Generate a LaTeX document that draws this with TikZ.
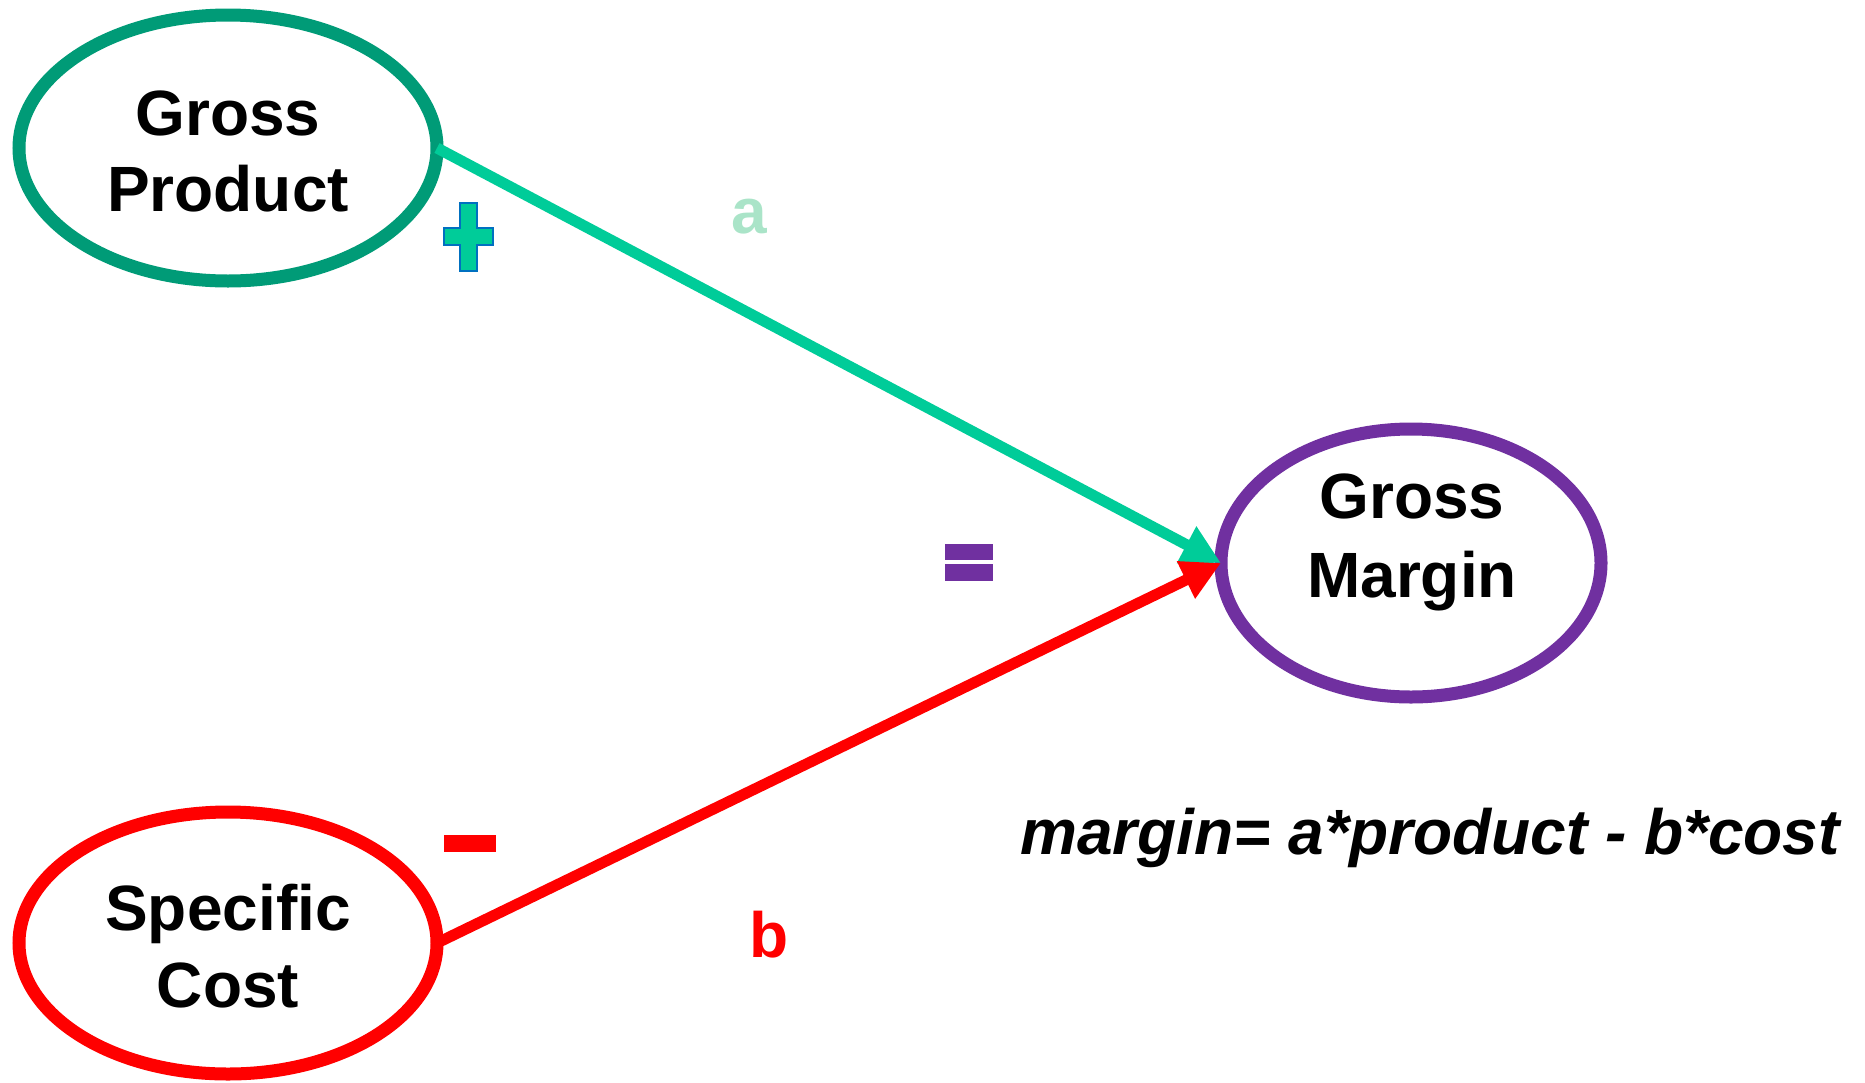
\documentclass[tikz,border=0pt]{standalone}
\usepackage{fontspec}
\setmainfont{Liberation Sans}
\usetikzlibrary{shapes.geometric,arrows.meta}
\definecolor{gpgreen}{RGB}{0,155,119}
\definecolor{lgreen}{RGB}{0,204,153}
\definecolor{pale}{RGB}{170,228,200}
\definecolor{plusblue}{RGB}{0,112,192}
\definecolor{purp}{RGB}{112,48,160}
\definecolor{myred}{RGB}{255,0,0}
\tikzset{
  oval/.style={ellipse, draw, line width=13pt, inner sep=0pt, outer sep=0pt,
    minimum width=418pt, minimum height=266pt, fill=white},
  lbl/.style={anchor=base, inner sep=0pt, font=\fontsize{64}{77}\selectfont\bfseries},
  conn/.style={line width=11pt, -{Triangle[length=39pt,width=39pt]}},
}
\begin{document}
\begin{tikzpicture}[x=1pt,y={(0pt,-1pt)}]
\useasboundingbox (0,0) rectangle (1865,1082);
% ellipses
\node[oval, draw=gpgreen] (GP) at (228,148) {};
\node[oval, draw=myred, minimum height=262pt] (SC) at (228,943) {};
\node[oval, draw=purp, minimum width=380pt, minimum height=268pt] (GM) at (1411,563) {};
% texts
\node[lbl] (gp1) at (228,135) {Gross};
\node[lbl] (gp2) at (228,211) {Product};
\node[lbl] (sc1) at (228,930) {Specific};
\node[lbl] (sc2) at (228,1007) {Cost};
\node[lbl] (gm1) at (1412,518) {Gross};
\node[lbl] (gm2) at (1412,597) {Margin};
% connectors
\draw[conn, draw=lgreen, fill=lgreen] (GP.east) -- (GM.west);
\draw[conn, draw=myred, fill=myred] (SC.east) -- (GM.west);
% edge labels
\node[lbl, text=pale] (la) at (749.5,233) {a};
\node[lbl, text=myred] (lb) at (769,957) {b};
% plus sign
\filldraw[fill=lgreen, draw=plusblue, line width=2.5pt]
  (460,203) -- (477,203) -- (477,228) -- (493,228) -- (493,245) -- (477,245)
  -- (477,271) -- (460,271) -- (460,245) -- (444,245) -- (444,228) -- (460,228) -- cycle;
% equals sign
\fill[purp] (945,544) rectangle (993,560);
\fill[purp] (945,564) rectangle (993,581);
% minus sign
\fill[myred] (444,835) rectangle (496,852);
% formula
\node[lbl, font=\fontsize{64}{77}\selectfont\bfseries\itshape] (formula) at (1430,854) {margin= a*product - b*cost};
\end{tikzpicture}
\end{document}
